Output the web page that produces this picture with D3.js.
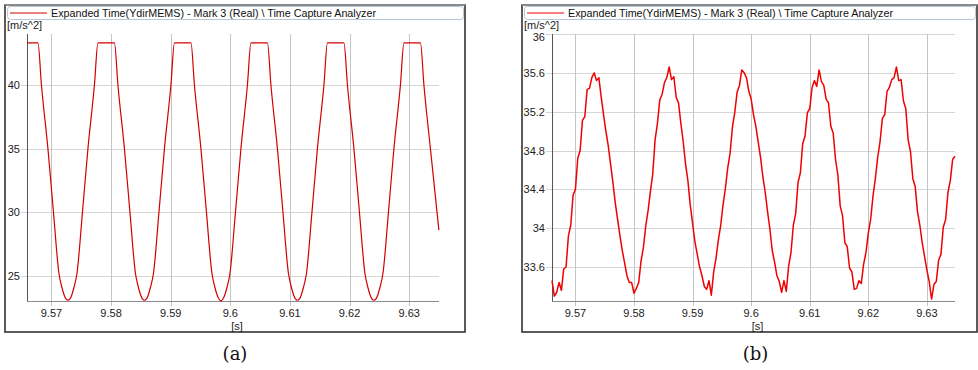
<!DOCTYPE html>
<html><head><meta charset="utf-8">
<script src="https://cdn.jsdelivr.net/npm/d3@7"></script>
<style>body{margin:0;background:#fff}svg{display:block}</style>
</head><body>
<script>
// ---------- data ----------
const legendText = "Expanded Time(YdirMEMS) - Mark 3 (Real) \\ Time Capture Analyzer";
const yUnit = "[m/s^2]";
const xUnit = "[s]";
const captions = ["(a)", "(b)"];
const xTicks = [9.57, 9.58, 9.59, 9.6, 9.61, 9.62, 9.63];
const aYTicks = [25, 30, 35, 40];
const bYTicks = [33.6, 34, 34.4, 34.8, 35.2, 35.6, 36];
const aXDomain = [9.5659, 9.6350];
const aYDomain = [23.04, 44.0];
const bXDomain = [9.5660, 9.6348];
const bYDomain = [33.25, 36.0];

// (a) clipped signal: time / value pairs
const aTime = [9.5659,
 9.56774, 9.56832, 9.56941, 9.57034, 9.57126, 9.57176, 9.57210, 9.57243, 9.57277, 9.57310, 9.57344, 9.57377, 9.57428, 9.57520, 9.57612, 9.57721, 9.57780,
 9.58057, 9.58115, 9.58224, 9.58317, 9.58409, 9.58459, 9.58493, 9.58526, 9.58560, 9.58593, 9.58627, 9.58660, 9.58711, 9.58803, 9.58895, 9.59004, 9.59063,
 9.59340, 9.59398, 9.59507, 9.59600, 9.59692, 9.59742, 9.59776, 9.59809, 9.59843, 9.59876, 9.59910, 9.59943, 9.59994, 9.60086, 9.60178, 9.60287, 9.60346,
 9.60623, 9.60681, 9.60790, 9.60883, 9.60975, 9.61025, 9.61059, 9.61092, 9.61126, 9.61159, 9.61193, 9.61226, 9.61277, 9.61369, 9.61461, 9.61570, 9.61629,
 9.61906, 9.61964, 9.62073, 9.62166, 9.62258, 9.62308, 9.62342, 9.62375, 9.62409, 9.62442, 9.62476, 9.62509, 9.62560, 9.62652, 9.62744, 9.62853, 9.62912,
 9.63189, 9.63247, 9.63356, 9.63498];
const aValue = [43.3,
 43.3, 40, 35, 30, 25.2, 24.1, 23.55, 23.2, 23.1, 23.2, 23.55, 24.1, 25.2, 30, 35, 40, 43.3,
 43.3, 40, 35, 30, 25.2, 24.1, 23.55, 23.2, 23.1, 23.2, 23.55, 24.1, 25.2, 30, 35, 40, 43.3,
 43.3, 40, 35, 30, 25.2, 24.1, 23.55, 23.2, 23.05, 23.2, 23.55, 24.1, 25.2, 30, 35, 40, 43.3,
 43.3, 40, 35, 30, 25.2, 24.1, 23.55, 23.2, 23.1, 23.2, 23.55, 24.1, 25.2, 30, 35, 40, 43.3,
 43.3, 40, 35, 30, 25.2, 24.1, 23.55, 23.2, 23.1, 23.2, 23.55, 24.1, 25.2, 30, 35, 40, 43.3,
 43.3, 40, 35, 28.6];

// (b) sampled signal: start time, sample step, values
const bStart = 9.5660;
const bStep = 0.0004;
const bValue = [
 33.46, 33.30, 33.34, 33.44, 33.36, 33.58, 33.60, 33.92, 34.03, 34.34,
 34.40, 34.72, 34.80, 35.11, 35.15, 35.43, 35.44, 35.55, 35.60, 35.52,
 35.55, 35.35, 35.17, 35.00, 34.85, 34.66, 34.47, 34.26, 34.09, 33.92,
 33.77, 33.64, 33.51, 33.44, 33.44, 33.33, 33.38, 33.44, 33.66, 33.80,
 34.02, 34.18, 34.38, 34.56, 34.91, 35.08, 35.32, 35.38, 35.50, 35.55,
 35.66, 35.53, 35.56, 35.35, 35.29, 35.08, 34.89, 34.66, 34.49, 34.24,
 34.05, 33.86, 33.73, 33.60, 33.51, 33.40, 33.37, 33.46, 33.31, 33.55,
 33.69, 33.88, 34.03, 34.24, 34.41, 34.62, 34.77, 35.04, 35.19, 35.40,
 35.47, 35.63, 35.60, 35.55, 35.41, 35.33, 35.17, 35.05, 34.89, 34.73,
 34.53, 34.37, 34.17, 33.99, 33.77, 33.65, 33.51, 33.45, 33.34, 33.46,
 33.35, 33.61, 33.75, 34.03, 34.15, 34.47, 34.57, 34.87, 34.95, 35.19,
 35.23, 35.45, 35.52, 35.46, 35.63, 35.51, 35.47, 35.33, 35.29, 35.05,
 34.98, 34.71, 34.55, 34.23, 34.13, 33.85, 33.81, 33.59, 33.55, 33.37,
 33.38, 33.46, 33.43, 33.63, 33.75, 33.95, 34.09, 34.33, 34.51, 34.73,
 34.89, 35.13, 35.17, 35.41, 35.45, 35.53, 35.55, 35.66, 35.52, 35.53,
 35.31, 35.23, 34.91, 34.79, 34.51, 34.43, 34.17, 34.03, 33.85, 33.71,
 33.57, 33.45, 33.27, 33.42, 33.45, 33.67, 33.73, 34.01, 34.09, 34.37,
 34.49, 34.71, 34.74];

// ---------- drawing ----------
const W = 978, H = 370;
const svg = d3.select("body").append("svg").attr("width", W).attr("height", H);
const FONT = "'Liberation Sans', Arial, sans-serif";

function panel(p) {
  const g = svg.append("g");
  // frame
  g.append("rect").attr("x", p.fx0).attr("y", 5).attr("width", p.fx1 - p.fx0).attr("height", 327)
    .attr("fill", "#fff").attr("stroke", "#333").attr("stroke-width", 1.6);
  g.append("line").attr("x1", p.fx0).attr("x2", p.fx1).attr("y1", 5).attr("y2", 5)
    .attr("stroke", "#9a9a9a").attr("stroke-width", 1.6);
  // legend
  g.append("rect").attr("x", p.fx0 + 2.5).attr("y", 6.5).attr("width", p.lw).attr("height", 13)
    .attr("rx", 3).attr("fill", "#fff").attr("stroke", "#b8c6d4").attr("stroke-width", 1);
  g.append("line").attr("x1", p.fx0 + 5).attr("x2", p.fx0 + 42).attr("y1", 13).attr("y2", 13)
    .attr("stroke", p.color).attr("stroke-width", 1.2);
  g.append("text").attr("x", p.fx0 + 46).attr("y", 17).attr("font-family", FONT).attr("font-size", 11)
    .attr("fill", "#111").attr("textLength", 325).attr("lengthAdjust", "spacingAndGlyphs").text(legendText);

  const x = d3.scaleLinear().domain(p.xd).range([p.x0, p.x1]);
  const y = d3.scaleLinear().domain(p.yd).range([p.y1, p.y0]);

  // horizontal grid
  g.append("g").selectAll("line").data(p.yt).join("line")
    .attr("x1", p.x0 - 6).attr("x2", p.x1).attr("y1", d => Math.round(y(d)) + 0.5).attr("y2", d => Math.round(y(d)) + 0.5)
    .attr("stroke", "#d6d6d6").attr("stroke-width", 1);
  // vertical grid
  g.append("g").selectAll("line").data(xTicks).join("line")
    .attr("x1", d => Math.round(x(d)) + 0.5).attr("x2", d => Math.round(x(d)) + 0.5)
    .attr("y1", p.y0).attr("y2", p.y1 + 5)
    .attr("stroke", "#c4c4c4").attr("stroke-width", 1);
  // axes lines
  g.append("line").attr("x1", p.x0 + 0.5).attr("x2", p.x0 + 0.5).attr("y1", p.y0).attr("y2", p.y1)
    .attr("stroke", "#555").attr("stroke-width", 1);
  g.append("line").attr("x1", p.x0).attr("x2", p.x1).attr("y1", p.y1 + 0.5).attr("y2", p.y1 + 0.5)
    .attr("stroke", "#8a8a8a").attr("stroke-width", 1);

  // tick labels (top label nudged down so it sits under the unit label)
  g.append("g").selectAll("text").data(p.yt).join("text")
    .attr("x", p.x0 - 7).attr("y", d => Math.max(y(d) + 4, 41)).attr("text-anchor", "end")
    .attr("font-family", FONT).attr("font-size", 11).attr("fill", "#222").text(d => String(d));
  g.append("g").selectAll("text").data(xTicks).join("text")
    .attr("x", d => x(d)).attr("y", p.y1 + 16).attr("text-anchor", "middle")
    .attr("font-family", FONT).attr("font-size", 11).attr("fill", "#222").text(d => String(d));
  g.append("text").attr("x", p.fx0 + 2).attr("y", 29).attr("font-family", FONT).attr("font-size", 11)
    .attr("fill", "#222").text(yUnit);
  g.append("text").attr("x", (p.x0 + p.x1) / 2 + 4).attr("y", p.y1 + 29).attr("text-anchor", "middle")
    .attr("font-family", FONT).attr("font-size", 11).attr("fill", "#222").text(xUnit);

  // series
  const line = d3.line().x(d => x(d[0])).y(d => y(d[1])).curve(p.curve);
  g.append("path").datum(p.data).attr("d", line).attr("fill", "none")
    .attr("stroke", p.color).attr("stroke-width", p.sw).attr("stroke-linejoin", "round");

  // caption
  svg.append("text").attr("x", (p.x0 + p.x1) / 2 + 2).attr("y", 360).attr("text-anchor", "middle")
    .attr("font-family", "'DejaVu Serif', 'Liberation Serif', serif").attr("font-size", 18)
    .attr("fill", "#111").text(p.caption);
}

panel({
  fx0: 5, fx1: 465, lw: 456, x0: 27, x1: 439, y0: 34, y1: 301,
  xd: aXDomain, yd: aYDomain, yt: aYTicks, color: "#d40000",
  data: aTime.map((t, i) => [t, aValue[i]]), curve: d3.curveMonotoneX, sw: 1.2, caption: captions[0]
});
panel({
  fx0: 522, fx1: 977, lw: 451, x0: 552, x1: 955, y0: 34, y1: 301,
  xd: bXDomain, yd: bYDomain, yt: bYTicks, color: "#f00000",
  data: bValue.map((v, i) => [bStart + i * bStep, v]), curve: d3.curveLinear, sw: 1.5, caption: captions[1]
});
</script>
</body></html>
